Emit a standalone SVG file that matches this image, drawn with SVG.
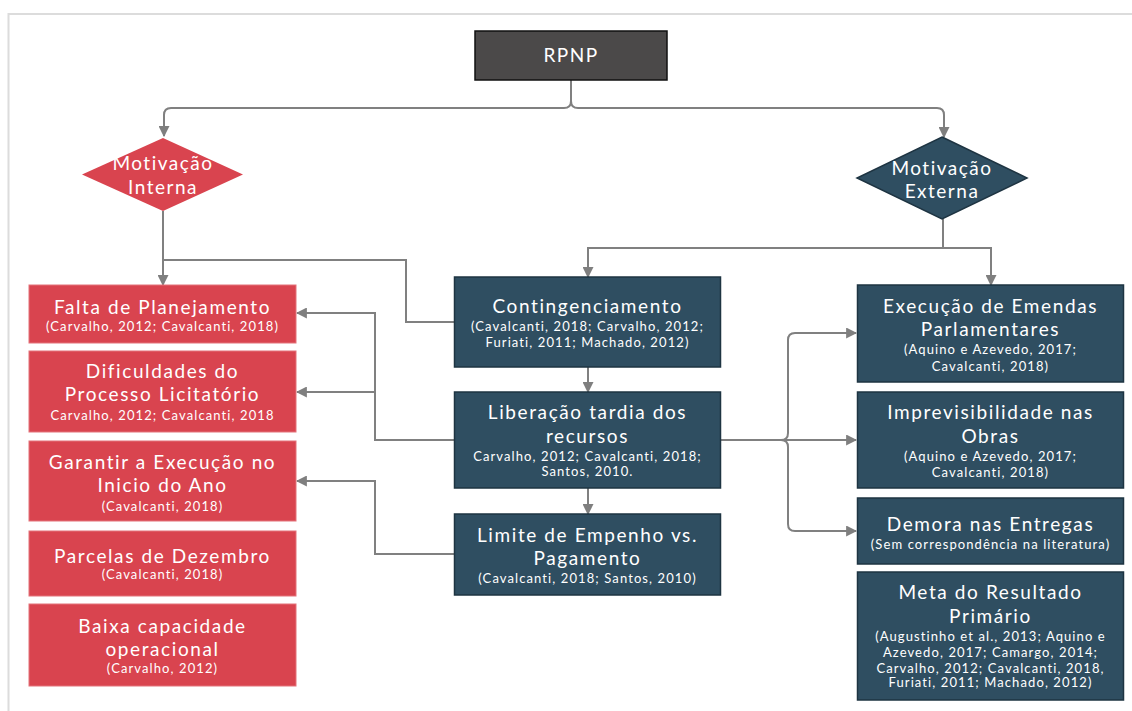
<svg xmlns="http://www.w3.org/2000/svg" width="1132" height="711" viewBox="0 0 1132 711">
<defs>
<marker id="ah" viewBox="0 0 10 10" refX="9" refY="5" markerWidth="5.5" markerHeight="5.5" orient="auto" markerUnits="strokeWidth">
<path d="M0,0 L10,5 L0,10 z" fill="#7f7f7f"/>
</marker>
<style>
.red{fill:#d9444f;stroke:#e3727a;stroke-width:1}
.navy{fill:#2f4e61;stroke:#1e3442;stroke-width:1.5}
.dark{fill:#4b4949;stroke:#111;stroke-width:1.5}
.dia-r{fill:#d9444f}
.dia-n{fill:#2f4e61;stroke:#1e3442;stroke-width:1.5}
text{font-family:Lato,"Open Sans","Liberation Sans",sans-serif;fill:#fff;text-anchor:middle}
.t{font-size:19px;letter-spacing:1.6px}
.c{font-size:13px;letter-spacing:1.1px}
.d{font-size:19px;letter-spacing:1.5px}
.conn{fill:none;stroke:#808080;stroke-width:2}
</style>
</defs>
<rect x="0" y="0" width="1132" height="711" fill="#fff"/>
<path d="M8.5,711 V14 H1132" fill="none" stroke="#dcdcdc" stroke-width="2"/>
<g id="connectors">
<path class="conn" d="M571,80 V101 Q571,108 564,108 H171 Q164,108 164,115 V136" marker-end="url(#ah)"/>
<path class="conn" d="M571,101 Q571,108 578,108 H937 Q944,108 944,115 V137" marker-end="url(#ah)"/>
<path class="conn" d="M163,211 V285" marker-end="url(#ah)"/>
<path class="conn" d="M455,322 H406 V260 H163"/>
<path class="conn" d="M943,219 V248 H588 V277" marker-end="url(#ah)"/>
<path class="conn" d="M943,248 H991 V285" marker-end="url(#ah)"/>
<path class="conn" d="M588,367 V392" marker-end="url(#ah)"/>
<path class="conn" d="M588,488 V514" marker-end="url(#ah)"/>
<path class="conn" d="M455,440 H375 V313 H297" marker-end="url(#ah)"/>
<path class="conn" d="M375,392 H297" marker-end="url(#ah)"/>
<path class="conn" d="M455,554 H375 V481 H297" marker-end="url(#ah)"/>
<path class="conn" d="M721,440 H781 Q788,440 788,433 V340 Q788,333 795,333 H856" marker-end="url(#ah)"/>
<path class="conn" d="M781,440 H856" marker-end="url(#ah)"/>
<path class="conn" d="M781,440 Q788,440 788,447 V524 Q788,531 795,531 H856" marker-end="url(#ah)"/>
</g>
<g id="rpnp">
<rect class="dark" x="475" y="31" width="192" height="49"/>
<text class="d" x="571" y="62" font-size="18" letter-spacing="1">RPNP</text>
</g>
<g id="motivacao-interna">
<polygon class="dia-r" points="163,138 243,174.5 163,211 82,174.5"/>
<text class="d" x="163" y="170">Motivação</text>
<text class="d" x="163" y="194">Interna</text>
</g>
<g id="motivacao-externa">
<polygon class="dia-n" points="942,137 1027,178 942,219 857,178"/>
<text class="d" x="942" y="175">Motivação</text>
<text class="d" x="942" y="198">Externa</text>
</g>
<g id="falta">
<rect class="red" x="29" y="285" width="267" height="58"/>
<text class="t" x="162.5" y="314">Falta de Planejamento</text>
<text class="c" x="162.5" y="331">(Carvalho, 2012; Cavalcanti, 2018)</text>
</g>
<g id="dificuldades">
<rect class="red" x="29" y="351" width="267" height="81"/>
<text class="t" x="162.5" y="378">Dificuldades do</text>
<text class="t" x="162.5" y="401">Processo Licitatório</text>
<text class="c" x="162.5" y="420">Carvalho, 2012; Cavalcanti, 2018</text>
</g>
<g id="garantir">
<rect class="red" x="29" y="441" width="267" height="80"/>
<text class="t" x="162.5" y="469">Garantir a Execução no</text>
<text class="t" x="162.5" y="492">Inicio do Ano</text>
<text class="c" x="162.5" y="511">(Cavalcanti, 2018)</text>
</g>
<g id="parcelas">
<rect class="red" x="29" y="531" width="267" height="65"/>
<text class="t" x="162.5" y="563">Parcelas de Dezembro</text>
<text class="c" x="162.5" y="579">(Cavalcanti, 2018)</text>
</g>
<g id="baixa">
<rect class="red" x="29" y="604" width="267" height="82"/>
<text class="t" x="162.5" y="633">Baixa capacidade</text>
<text class="t" x="162.5" y="656">operacional</text>
<text class="c" x="162.5" y="673">(Carvalho, 2012)</text>
</g>
<g id="contingenciamento">
<rect class="navy" x="454.5" y="277" width="266" height="90"/>
<text class="t" x="587.5" y="313">Contingenciamento</text>
<text class="c" x="587.5" y="331">(Cavalcanti, 2018; Carvalho, 2012;</text>
<text class="c" x="587.5" y="347">Furiati, 2011; Machado, 2012)</text>
</g>
<g id="liberacao">
<rect class="navy" x="454.5" y="392" width="266" height="96"/>
<text class="t" x="587.5" y="419">Liberação tardia dos</text>
<text class="t" x="587.5" y="443">recursos</text>
<text class="c" x="587.5" y="461">Carvalho, 2012; Cavalcanti, 2018;</text>
<text class="c" x="587.5" y="476">Santos, 2010.</text>
</g>
<g id="limite">
<rect class="navy" x="454.5" y="514" width="266" height="81"/>
<text class="t" x="587.5" y="542">Limite de Empenho vs.</text>
<text class="t" x="587.5" y="565">Pagamento</text>
<text class="c" x="587.5" y="583">(Cavalcanti, 2018; Santos, 2010)</text>
</g>
<g id="execucao">
<rect class="navy" x="857.5" y="285" width="266" height="97"/>
<text class="t" x="990.5" y="313">Execução de Emendas</text>
<text class="t" x="990.5" y="336">Parlamentares</text>
<text class="c" x="990.5" y="354">(Aquino e Azevedo, 2017;</text>
<text class="c" x="990.5" y="371">Cavalcanti, 2018)</text>
</g>
<g id="imprevisibilidade">
<rect class="navy" x="857.5" y="392" width="266" height="96"/>
<text class="t" x="990.5" y="419">Imprevisibilidade nas</text>
<text class="t" x="990.5" y="443">Obras</text>
<text class="c" x="990.5" y="461">(Aquino e Azevedo, 2017;</text>
<text class="c" x="990.5" y="477">Cavalcanti, 2018)</text>
</g>
<g id="demora">
<rect class="navy" x="857.5" y="498" width="266" height="66"/>
<text class="t" x="990.5" y="531">Demora nas Entregas</text>
<text class="c" x="990.5" y="549">(Sem correspondência na literatura)</text>
</g>
<g id="meta">
<rect class="navy" x="857.5" y="572" width="266" height="128"/>
<text class="t" x="990.5" y="599">Meta do Resultado</text>
<text class="t" x="990.5" y="623">Primário</text>
<text class="c" x="990.5" y="641">(Augustinho et al., 2013; Aquino e</text>
<text class="c" x="990.5" y="657">Azevedo, 2017; Camargo, 2014;</text>
<text class="c" x="990.5" y="673">Carvalho, 2012; Cavalcanti, 2018,</text>
<text class="c" x="990.5" y="687">Furiati, 2011; Machado, 2012)</text>
</g>
</svg>
